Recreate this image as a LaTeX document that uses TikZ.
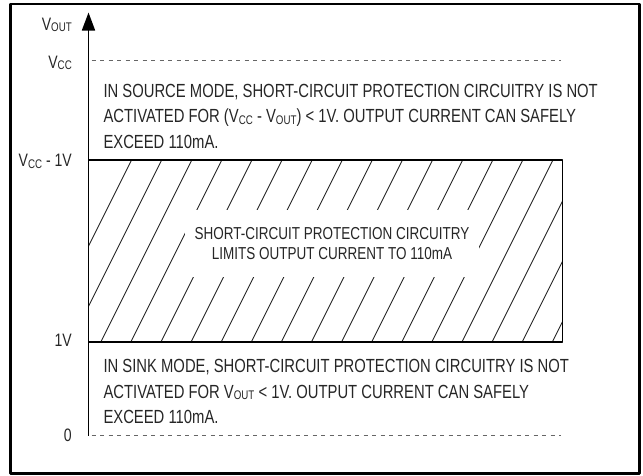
\documentclass[tikz,border=0pt]{standalone}
\usepackage{fontspec}
\setmainfont{Liberation Sans}[FakeStretch=0.78]
\usetikzlibrary{arrows.meta}
\newcommand{\lowsub}[1]{\raisebox{-1.6pt}{\fontsize{12.5}{12.5}\selectfont #1}}

\begin{document}
\begin{tikzpicture}[x=1pt,y=-1pt,>=Stealth,line join=round,
  lbl/.style={anchor=base east,inner sep=0pt,text=black!85,font=\fontsize{18}{22}\selectfont},
  note/.style={anchor=base west,inner sep=0pt,text=black!85,font=\fontsize{19}{22}\selectfont},
  hatch/.style={line width=0.9pt,black!85},
  guide/.style={line width=1pt,black!60,dash pattern=on 4pt off 4.5pt}]
  \useasboundingbox (0,0) rectangle (643,475);
  \draw[line width=2.4pt] (10.5,3.7) rectangle (639.5,473.5);
  % limited region, hatched
  \begin{scope}
    \clip (88.5,159.7) rectangle (562.3,341.7);
    \foreach \k in {0,...,17}
      \draw[hatch] (131.7+30.1*\k,159.7) -- ++(-100,200);
  \end{scope}
  \node[fill=white,inner xsep=10pt,inner ysep=17.5pt,align=center,text=black!85,
        font=\fontsize{17.3}{20}\selectfont] (limit) at (332,243.5)
    {SHORT-CIRCUIT PROTECTION CIRCUITRY\\LIMITS OUTPUT CURRENT TO 110mA};
  \draw[line width=1.6pt] (88.5,159.7) rectangle (562.3,341.7);
  % levels
  \draw[guide] (91.5,60) -- (561,60);
  \draw[guide] (91.5,435.5) -- (561,435.5);
  \draw[line width=1.6pt,-{Triangle[length=18pt,width=13pt]}] (88.5,435.5) -- (88.5,12.5);
  \node[lbl] (vout) at (72,30) {V\lowsub{OUT}};
  \node[lbl] (vcc) at (72,68.3) {V\lowsub{CC}};
  \node[lbl] (vcc1) at (72,166.7) {V\lowsub{CC} - 1V};
  \node[lbl] (one) at (72,346.7) {1V};
  \node[lbl] (zero) at (72,441.7) {0};
  % source mode note
  \node[note] (src1) at (103.3,97.3) {IN SOURCE MODE, SHORT-CIRCUIT PROTECTION CIRCUITRY IS NOT};
  \node[note] (src2) at (103.3,122.8) {ACTIVATED FOR (V\lowsub{CC} - V\lowsub{OUT}) < 1V. OUTPUT CURRENT CAN SAFELY};
  \node[note] (src3) at (103.3,148.3) {EXCEED 110mA.};
  % sink mode note
  \node[note] (snk1) at (103.3,372.7) {IN SINK MODE, SHORT-CIRCUIT PROTECTION CIRCUITRY IS NOT};
  \node[note] (snk2) at (103.3,398.2) {ACTIVATED FOR V\lowsub{OUT} < 1V. OUTPUT CURRENT CAN SAFELY};
  \node[note] (snk3) at (103.3,423.7) {EXCEED 110mA.};
\end{tikzpicture}
\end{document}
